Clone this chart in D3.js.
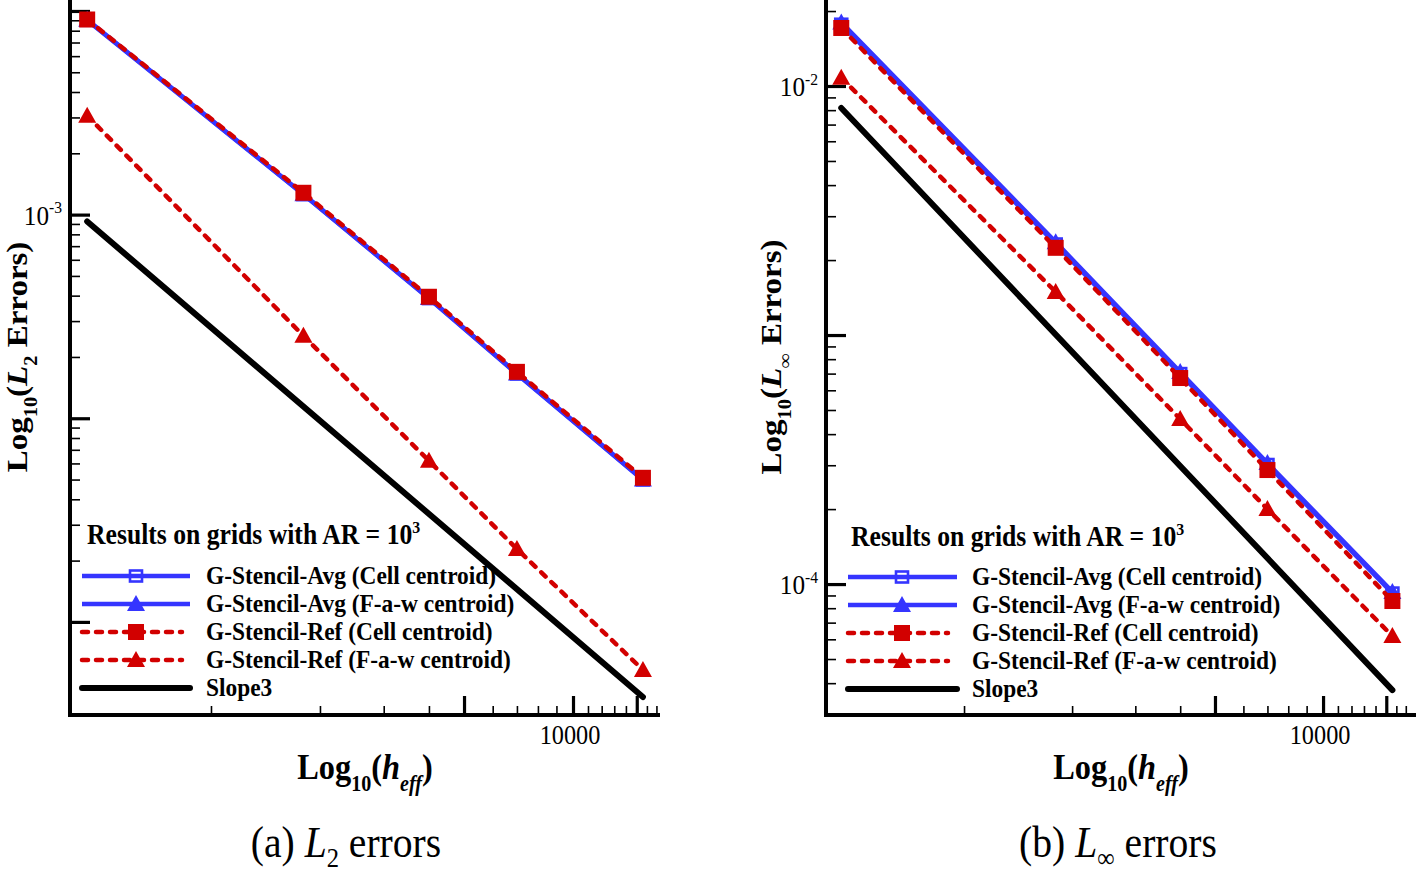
<!DOCTYPE html>
<html><head><meta charset="utf-8">
<script src="https://cdn.jsdelivr.net/npm/d3@7"></script>
<style>body{margin:0;background:#fff}svg{display:block}</style>
</head><body>
<svg id="chart" width="1418" height="872"></svg>
<script>
// ---------- data ----------
const hEff = [455, 1800, 4000, 7000, 15600];
// (a) L2 errors
const l2AvgCell = [9.0e-3, 1.255e-3, 3.87e-4, 1.65e-4, 4.98e-5];
const l2AvgFaw  = [9.05e-3, 1.26e-3, 3.89e-4, 1.66e-4, 5.0e-5];
const l2RefCell = [9.08e-3, 1.28e-3, 3.95e-4, 1.69e-4, 5.1e-5];
const l2RefFaw  = [3.06e-3, 2.54e-4, 6.18e-5, 2.28e-5, 5.81e-6];
const l2Slope   = [9.25e-4, 4.28e-6];
// (b) Linf errors
const liAvgCell = [1.77e-2, 2.32e-3, 7.0e-4, 3.02e-4, 9.2e-5];
const liAvgFaw  = [1.80e-2, 2.36e-3, 7.1e-4, 3.06e-4, 9.3e-5];
const liRefCell = [1.71e-2, 2.24e-3, 6.72e-4, 2.87e-4, 8.55e-5];
const liRefFaw  = [1.08e-2, 1.49e-3, 4.6e-4, 2.0e-4, 6.18e-5];
const liSlope   = [8.16e-3, 3.75e-5];
// axes
const xMajorTicks = [5000, 10000, 15000];
const xMinorTicks = [1000, 2000, 3000, 4000, 6000, 7000, 8000, 9000, 11000, 12000, 13000, 14000, 16000, 17000];
const xTickLabels = [10000];
const yMajorTicks = [1e-5, 1e-4, 1e-3, 1e-2];
const yMinorMult = [2, 3, 4, 5, 6, 7, 8, 9];
const yLabelsA = [-3];
const yLabelsB = [-2, -4];
const legendTitle = "Results on grids with AR = 10";
const legendSup = "3";
const seriesNames = ["G-Stencil-Avg (Cell centroid)", "G-Stencil-Avg (F-a-w centroid)",
  "G-Stencil-Ref (Cell centroid)", "G-Stencil-Ref (F-a-w centroid)", "Slope3"];

// ---------- drawing ----------
const svg = d3.select("#chart");
const FONT = "'Liberation Serif','Times New Roman',serif";
const SX = 0.9;
const BLUE = "#3535ff", RED = "#d20000";

function rich(parent, x, y, parts, o) {
  const size = o.size;
  const tr = o.rotate ? `translate(${x},${y}) rotate(-90) scale(1,${SX})` : `translate(${x},${y}) scale(${SX},1)`;
  const t = parent.append("text").attr("transform", tr)
    .attr("text-anchor", o.anchor || "start")
    .style("font-family", FONT).style("font-size", size + "px")
    .style("font-weight", o.weight || "normal").attr("fill", "#000");
  let shift = 0;
  const subK = o.subK || 0.32;
  parts.forEach(p => {
    const ts = t.append("tspan").text(p.t);
    const target = p.sub ? size * subK : p.sup ? -size * 0.4 : 0;
    ts.attr("dy", target - shift); shift = target;
    if (p.sub || p.sup) ts.style("font-size", (size * 0.62) + "px");
    if (p.i) ts.style("font-style", "italic");
  });
  return t;
}

function panel(cfg) {
  const g = svg.append("g");
  const x = d3.scaleLog().domain(cfg.xDomain).range(cfg.xRange);
  const y = d3.scaleLog().domain(cfg.yDomain).range([0, 715]);
  const x0 = cfg.xRange[0], x1 = cfg.xRange[1], yb = 715;

  // x ticks
  const gx = g.append("g").attr("transform", `translate(0,${yb})`);
  gx.append("g").call(d3.axisBottom(x).tickValues(xMinorTicks).tickSize(-9).tickFormat(""))
    .call(s => { s.select(".domain").remove(); s.selectAll("line").attr("stroke", "#000").attr("stroke-width", 1.6); });
  gx.append("g").call(d3.axisBottom(x).tickValues(xMajorTicks).tickSize(-19).tickFormat(""))
    .call(s => { s.select(".domain").remove(); s.selectAll("line").attr("stroke", "#000").attr("stroke-width", 3.2); });
  xTickLabels.forEach(v => rich(g, x(v) - 3, 744, [{t: String(v)}], {size: 27, anchor: "middle"}));

  // y ticks
  const minor = [];
  yMajorTicks.forEach(m => yMinorMult.forEach(k => { const v = m * k; const p = y(v); if (p > 2 && p < 710) minor.push(v); }));
  const majors = yMajorTicks.filter(v => y(v) >= 0 && y(v) <= 715);
  const gy = g.append("g").attr("transform", `translate(${x0},0)`);
  gy.append("g").call(d3.axisLeft(y).tickValues(minor).tickSize(-10).tickFormat(""))
    .call(s => { s.select(".domain").remove(); s.selectAll("line").attr("stroke", "#000").attr("stroke-width", 1.6); });
  gy.append("g").call(d3.axisLeft(y).tickValues(majors).tickSize(-20).tickFormat(""))
    .call(s => { s.select(".domain").remove(); s.selectAll("line").attr("stroke", "#000").attr("stroke-width", 3.2); });
  cfg.yLabels.forEach(e => {
    rich(g, x0 - 8, y(Math.pow(10, e)) + 10, [{t: "10"}, {t: String(e), sup: true}], {size: 28, anchor: "end"});
  });

  // axis lines
  g.append("line").attr("x1", x0).attr("x2", x0).attr("y1", 0).attr("y2", yb + 2)
    .attr("stroke", "#000").attr("stroke-width", 4);
  g.append("line").attr("x1", x0 - 2).attr("x2", x1).attr("y1", yb).attr("y2", yb)
    .attr("stroke", "#000").attr("stroke-width", 4);

  // series
  const line = d3.line().x(d => x(d[0])).y(d => y(d[1]));
  const styles = [
    {color: BLUE, dash: null, marker: "sqHollow"},
    {color: BLUE, dash: null, marker: "tri"},
    {color: RED, dash: "6,8", marker: "sq"},
    {color: RED, dash: "6,8", marker: "tri"},
    {color: "#000", dash: null, marker: null, w: 6}
  ];
  function drawMarker(sel, kind, color, cx, cy) {
    if (kind === "sq") sel.append("rect").attr("x", cx - 8).attr("y", cy - 8).attr("width", 16).attr("height", 16).attr("fill", color);
    else if (kind === "sqHollow") sel.append("rect").attr("x", cx - 6).attr("y", cy - 5.5).attr("width", 12).attr("height", 11)
      .attr("fill", "none").attr("stroke", color).attr("stroke-width", 2.6);
    else if (kind === "tri") sel.append("path").attr("d", `M${cx},${cy - 9}L${cx + 9},${cy + 7}L${cx - 9},${cy + 7}Z`).attr("fill", color);
  }
  cfg.series.forEach((vals, i) => {
    const st = styles[i];
    const pts = i === 4 ? [[hEff[0], vals[0]], [hEff[hEff.length - 1], vals[1]]] : hEff.map((h, j) => [h, vals[j]]);
    g.append("path").attr("d", line(pts)).attr("fill", "none").attr("stroke", st.color)
      .attr("stroke-width", st.w || 4.5).attr("stroke-dasharray", st.dash)
      .attr("stroke-linecap", st.dash || st.w ? "round" : "butt");
    if (st.marker) pts.forEach(p => drawMarker(g, st.marker, st.color, x(p[0]), y(p[1])));
  });

  // legend
  const L = cfg.legend;
  rich(g, L.hx, L.hy, [{t: legendTitle}, {t: legendSup, sup: true}], {size: 28.5, weight: "bold"});
  styles.forEach((st, i) => {
    const ry = L.rows[i];
    g.append("line").attr("x1", L.lx0).attr("x2", st.dash ? L.lx0 + 100 : L.lx1).attr("y1", ry).attr("y2", ry)
      .attr("stroke", st.color).attr("stroke-width", st.w || 4.5).attr("stroke-dasharray", st.dash)
      .attr("stroke-linecap", st.dash || st.w ? "round" : "butt");
    if (st.marker) drawMarker(g, st.marker, st.color, L.mx, ry);
    rich(g, L.tx, ry + 8, [{t: seriesNames[i]}], {size: 26, weight: "bold"});
  });

  // titles
  rich(g, cfg.xTitleX, 779, [{t: "Log"}, {t: "10", sub: true}, {t: "("}, {t: "h", i: true}, {t: "eff", i: true, sub: true}, {t: ")"}],
    {size: 36, weight: "bold", anchor: "middle"});
  rich(g, cfg.yTitleX, 357, [{t: "Log"}, {t: "10", sub: true}, {t: "("}, {t: "L", i: true}, {t: cfg.ySub, sub: true}, {t: " Errors)"}],
    {size: 33, weight: "bold", anchor: "middle", rotate: true});
  rich(g, cfg.capX, 857, [{t: cfg.capPre}, {t: "L", i: true}, {t: cfg.ySub, sub: true}, {t: " errors"}],
    {size: 44, anchor: "middle", subK: 0.22});
}

panel({
  xDomain: [407.9, 17390], xRange: [70, 660],
  yDomain: [1.132e-2, 3.49e-6],
  yLabels: yLabelsA,
  series: [l2AvgCell, l2AvgFaw, l2RefCell, l2RefFaw, l2Slope],
  legend: {hx: 87, hy: 544, rows: [576, 604, 632, 660, 688], lx0: 82, lx1: 190, mx: 136, tx: 206},
  xTitleX: 365, yTitleX: 27, ySub: "2", capX: 346, capPre: "(a) "
});
panel({
  xDomain: [412.6, 18150], xRange: [826, 1416],
  yDomain: [2.215e-2, 2.98e-5],
  yLabels: yLabelsB,
  series: [liAvgCell, liAvgFaw, liRefCell, liRefFaw, liSlope],
  legend: {hx: 851, hy: 546, rows: [577, 605, 633, 661, 689], lx0: 848, lx1: 957, mx: 902, tx: 972},
  xTitleX: 1121, yTitleX: 781, ySub: "\u221E", capX: 1118, capPre: "(b) "
});
</script>
</body></html>
